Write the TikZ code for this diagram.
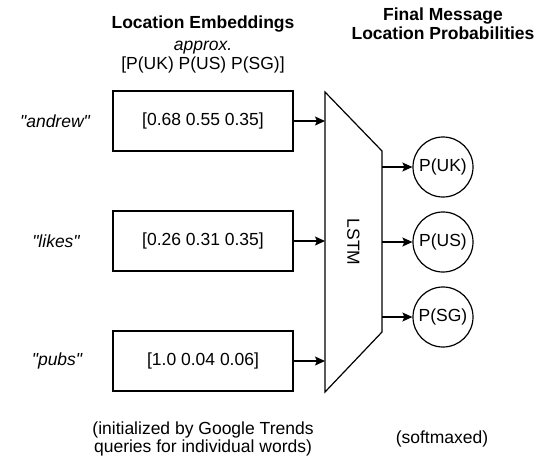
\documentclass[tikz,border=0pt]{standalone}
\usepackage{fontspec}
\setmainfont{Liberation Sans}
\usetikzlibrary{arrows.meta}
\begin{document}
\begin{tikzpicture}[x=1pt,y=-1pt,
  every node/.style={font=\fontsize{17.5}{20}\selectfont},
  embbox/.style={draw,line width=1.2pt,minimum width=180pt,minimum height=60pt,inner sep=0pt},
  probcircle/.style={draw,circle,line width=1.2pt,minimum size=60pt,inner sep=0pt},
  wordlabel/.style={font=\fontsize{17.5}{20}\selectfont\itshape},
  arr/.style={line width=1.2pt,-{Stealth[length=10pt,width=9pt,inset=2pt]}},
  txt/.style={align=center,inner sep=0pt}]
\useasboundingbox (0,0) rectangle (551,456);
% titles
\node[txt,anchor=base,font=\fontsize{17.5}{20}\selectfont\bfseries] (t1) at (203,28) {Location Embeddings};
\node[txt,anchor=base,font=\fontsize{17.5}{20}\selectfont\itshape] (t2) at (203,50) {approx.};
\node[txt,anchor=base] (t3) at (203,69) {[P(UK) P(US) P(SG)]};
\node[txt,anchor=base,font=\fontsize{17.5}{20}\selectfont\bfseries] (t4) at (443,20) {Final Message};
\node[txt,anchor=base,font=\fontsize{17.5}{20}\selectfont\bfseries] (t5) at (443,39) {Location Probabilities};
% word labels
\node[wordlabel] (w1) at (55,121) {\textquotedbl andrew\textquotedbl};
\node[wordlabel] (w2) at (56,241) {\textquotedbl likes\textquotedbl};
\node[wordlabel] (w3) at (57,361) {\textquotedbl pubs\textquotedbl};
% embedding boxes
\node[embbox] (b1) at (203,121) {[0.68 0.55 0.35]};
\node[embbox] (b2) at (203,241) {[0.26 0.31 0.35]};
\node[embbox] (b3) at (203,361) {[1.0 0.04 0.06]};
% LSTM trapezoid
\coordinate (p1) at (325,92);
\coordinate (p2) at (382,151);
\coordinate (p3) at (382,332);
\coordinate (p4) at (325,392);
\draw[line width=1.2pt,line join=miter] (p1) -- (p2) -- (p3) -- (p4) -- cycle;
\node[rotate=-90] (lstm) at (353.5,242) {LSTM};
\coordinate (i1) at (325,121);
\coordinate (i2) at (325,241);
\coordinate (i3) at (325,361);
\coordinate (o1) at (382,167);
\coordinate (o2) at (382,242);
\coordinate (o3) at (382,317);
% circles
\node[probcircle] (c1) at (443,167) {P(UK)};
\node[probcircle] (c2) at (443,242) {P(US)};
\node[probcircle] (c3) at (443,317) {P(SG)};
% arrows
\draw[arr] (b1.east) -- (i1);
\draw[arr] (b2.east) -- (i2);
\draw[arr] (b3.east) -- (i3);
\draw[arr] (o1) -- (c1.west);
\draw[arr] (o2) -- (c2.west);
\draw[arr] (o3) -- (c3.west);
% bottom notes
\node[txt,anchor=base] (n1) at (203,434) {(initialized by Google Trends};
\node[txt,anchor=base] (n2) at (203,452) {queries for individual words)};
\node[txt,anchor=base] (n3) at (442,443) {(softmaxed)};
\end{tikzpicture}
\end{document}
